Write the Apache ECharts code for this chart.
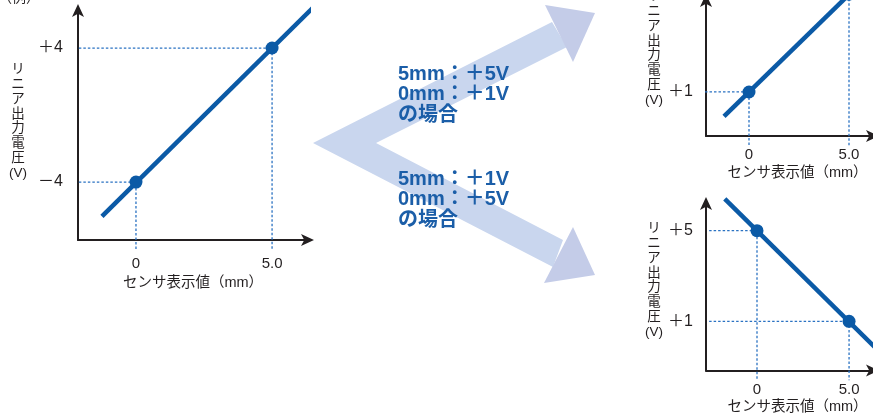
<!DOCTYPE html>
<html><head><meta charset="utf-8">
<script src="https://cdn.jsdelivr.net/npm/echarts@6/dist/echarts.min.js"></script>
<style>html,body{margin:0;padding:0;background:#fff}#c{width:873px;height:415px}</style>
</head><body><div id="c"></div>
<script>
// ---- data ----
const xTickValues = [0, 5];
const xTickLabels = ['0', '5.0'];

// chart A : example
const aYTickValues = [-4, 4];
const aYTickLabels = ['－4', '＋4'];
const aPoints = [[0, -4], [5, 4]];
const aLine = [[-1.25, -6.05], [6.5, 6.4]];

// chart B : 5mm -> +5V, 0mm -> +1V
const bYTickValues = [1];
const bYTickLabels = ['＋1'];
const bPoints = [[0, 1], [5, 5]];
const bLine = [[-1.25, 0], [6.4, 6.1]];

// chart C : 5mm -> +1V, 0mm -> +5V
const cYTickValues = [1, 5];
const cYTickLabels = ['＋1', '＋5'];
const cPoints = [[0, 5], [5, 1]];
const cLine = [[-1.75, 6.4], [6.6, -0.3]];

const xTitle = 'センサ表示値（mm）';
const yTitle = 'リ\nニ\nア\n出\n力\n電\n圧\n(V)';
const caseTexts = ['5mm：＋5V\n0mm：＋1V\nの場合', '5mm：＋1V\n0mm：＋5V\nの場合'];
const exampleText = '（例）';

// ---- style ----
const INK = '#231f20';
const BLUE = '#0b5aa6';
const GUIDE = '#2a72c2';
const FONT = '"Liberation Sans","Noto Sans CJK JP",sans-serif';

const grids = [
  {left: 78, top: 10, width: 230, height: 230, xmin: -2.13, xmax: 6.32, ymin: -7.46, ymax: 6.27, gx: -2.43, gy: -8.06, lblMarginX: 16, nameGap: 34},
  {left: 706, top: 0, width: 167, height: 136, xmin: -2.15, xmax: 6.2, ymin: -0.8, ymax: 4.76, gx: -2.2, gy: -1.25, lblMarginX: 11, nameGap: 30},
  {left: 706, top: 203, width: 167, height: 170, xmin: -2.77, xmax: 6.3, ymin: -1.17, ymax: 6.22, gx: -2.6, gy: -1.6, lblMarginX: 12, nameGap: 29}
];
const yTickSets = [[aYTickValues, aYTickLabels], [bYTickValues, bYTickLabels], [cYTickValues, cYTickLabels]];
const pointSets = [aPoints, bPoints, cPoints];
const lineSets = [aLine, bLine, cLine];

const axisLine = {show: true, onZero: false, symbol: ['none', 'arrow'], symbolSize: [9, 13], symbolOffset: [0, 6], lineStyle: {color: INK, width: 2}};

const option = {
  animation: false,
  grid: grids.map(g => ({left: g.left, top: g.top, width: g.width, height: g.height})),
  xAxis: grids.map((g, i) => ({
    type: 'value', gridIndex: i, min: g.xmin, max: g.xmax,
    axisLine: axisLine, axisTick: {show: false}, splitLine: {show: false},
    axisLabel: {customValues: xTickValues, margin: g.lblMarginX, color: INK, fontSize: 15, fontFamily: FONT,
      formatter: v => xTickLabels[xTickValues.indexOf(v)] || ''},
    name: xTitle, nameLocation: 'middle', nameGap: g.nameGap,
    nameTextStyle: {color: INK, fontSize: 14.5, fontFamily: FONT, padding: i === 0 ? [0, 0, 0, 0] : [0, 0, 0, 16]}
  })),
  yAxis: grids.map((g, i) => ({
    type: 'value', gridIndex: i, min: g.ymin, max: g.ymax,
    axisLine: axisLine, axisTick: {show: false}, splitLine: {show: false},
    axisLabel: {customValues: yTickSets[i][0], margin: i === 0 ? 15 : 13, color: INK, fontSize: 16, fontFamily: FONT,
      formatter: v => yTickSets[i][1][yTickSets[i][0].indexOf(v)] || ''}
  })),
  graphic: [
    {type: 'polygon', z: 1, shape: {points: [[313,143],[552,22],[567,47],[376,143],[563,240],[553,267]]}, style: {fill: '#c9d6ee'}},
    {type: 'polygon', z: 1, shape: {points: [[545,5],[595,13],[573,62]]}, style: {fill: '#c4cce8'}},
    {type: 'polygon', z: 1, shape: {points: [[573,227],[595,275],[544,283]]}, style: {fill: '#c4cce8'}},
    {type: 'text', z: 10, x: 398, y: 64, style: {text: caseTexts[0], fill: '#1b5ea8', fontSize: 20, fontWeight: 'bold', fontFamily: FONT, lineHeight: 20.5}},
    {type: 'text', z: 10, x: 398, y: 169, style: {text: caseTexts[1], fill: '#1b5ea8', fontSize: 20, fontWeight: 'bold', fontFamily: FONT, lineHeight: 20.5}},
    {type: 'text', x: 18, y: 62, style: {text: yTitle, fill: INK, fontSize: 13.5, fontFamily: FONT, lineHeight: 14.8, align: 'center'}},
    {type: 'text', x: 654, y: -11, style: {text: yTitle, fill: INK, fontSize: 13.5, fontFamily: FONT, lineHeight: 14.8, align: 'center'}},
    {type: 'text', x: 654, y: 221, style: {text: yTitle, fill: INK, fontSize: 13.5, fontFamily: FONT, lineHeight: 14.8, align: 'center'}},
    {type: 'text', x: -2, y: -9, style: {text: exampleText, fill: INK, fontSize: 14, fontFamily: FONT}}
  ],
  series: []
};

grids.forEach((g, i) => {
  // guide lines
  pointSets[i].forEach(p => {
    option.series.push({
      type: 'line', xAxisIndex: i, yAxisIndex: i, clip: false, symbol: 'none', silent: true, z: 2,
      lineStyle: {color: GUIDE, width: 1.3, type: [2.5, 2]},
      data: [[g.gx, p[1]], [p[0], p[1]], [p[0], g.gy]]
    });
  });
  // main line
  option.series.push({
    type: 'line', xAxisIndex: i, yAxisIndex: i, clip: false, symbol: 'none', z: 3,
    lineStyle: {color: BLUE, width: 4.5, cap: 'butt'}, data: lineSets[i]
  });
  // dots
  option.series.push({
    type: 'scatter', xAxisIndex: i, yAxisIndex: i, clip: false, symbolSize: 13, z: 4,
    itemStyle: {color: BLUE, opacity: 1}, data: pointSets[i]
  });
});

const chart = echarts.init(document.getElementById('c'), null, {renderer: 'canvas'});
chart.setOption(option);
</script>
</body></html>
